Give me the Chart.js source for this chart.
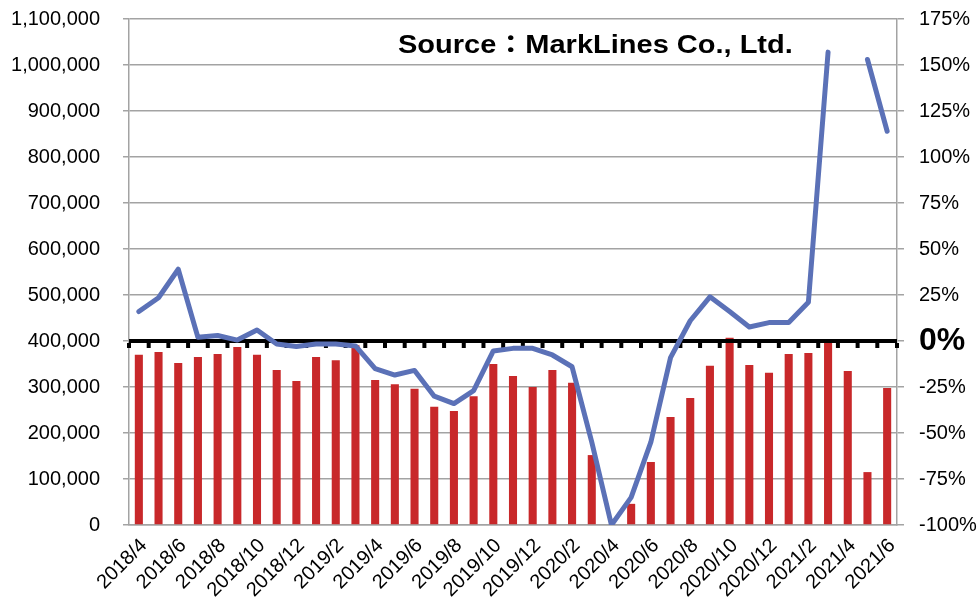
<!DOCTYPE html>
<html>
<head>
<meta charset="utf-8">
<script src="https://cdn.jsdelivr.net/npm/chart.js@4.4.1/dist/chart.umd.min.js"></script>
<style>
  html, body { margin: 0; padding: 0; background: #fff; }
  #wrap { width: 979px; height: 611px; }
</style>
</head>
<body>
<div id="wrap"><canvas id="salesChart" width="979" height="611"></canvas></div>
<script>
const months = [
    '2018/4', '2018/5', '2018/6', '2018/7', '2018/8', '2018/9', '2018/10', '2018/11', '2018/12',
    '2019/1', '2019/2', '2019/3', '2019/4', '2019/5', '2019/6', '2019/7', '2019/8', '2019/9',
    '2019/10', '2019/11', '2019/12',
    '2020/1', '2020/2', '2020/3', '2020/4', '2020/5', '2020/6', '2020/7', '2020/8', '2020/9',
    '2020/10', '2020/11', '2020/12',
    '2021/1', '2021/2', '2021/3', '2021/4', '2021/5', '2021/6'
];

// monthly sales volume (units)
const sales = [
    370000, 376000, 352000, 365000, 372000, 387000, 370000, 337000, 313000,
    365000, 358000, 391000, 315000, 306000, 296000, 257000, 248000, 280000,
    350000, 324000, 300000,
    337000, 309000, 152000, 0, 46000, 137000, 235000, 276000, 346000,
    407000, 348000, 331000,
    372000, 374000, 400000, 335000, 115000, 298000
];

// year-on-year change (%), no value where the base month was zero
const growth = [
    16, 23.5, 39, 2, 3, 0.5, 6, -1.6, -3,
    -1.6, -1.6, -2.7, -15, -18.5, -16, -30, -34, -27,
    -5.4, -4, -4,
    -7.6, -14, -55, -100, -85, -55, -9, 11, 24,
    16, 7.6, 10,
    10, 21, 157, null, 153, 114
];

const sourceText = 'Source：MarkLines Co., Ltd.';

Chart.defaults.font.family = "'Liberation Sans', Arial, sans-serif";
Chart.defaults.color = '#000';

const gridGray = '#a3a3a3';

// black category axis crossing at 0% with tick marks at the category edges
const zeroAxis = {
    id: 'zeroAxis',
    afterDatasetDraw(chart, args) {
        if (args.meta.type !== 'bar') return;
        const { ctx, chartArea, scales } = chart;
        const y = scales.y1.getPixelForValue(0);
        const x0 = scales.x.getPixelForValue(0);
        const step = scales.x.getPixelForValue(1) - x0;
        ctx.save();
        ctx.fillStyle = '#000';
        ctx.fillRect(chartArea.left, y - 2, chartArea.right - chartArea.left, 4);
        for (let i = 0; i <= months.length; i++) {
            const x = x0 + (i - 0.5) * step;
            ctx.fillRect(x - 2, y + 2, 4, 5);
        }
        ctx.restore();
    }
};

// source note, set in a slightly widened bold face
const sourceLabel = {
    id: 'sourceLabel',
    afterDraw(chart) {
        const { ctx } = chart;
        ctx.save();
        ctx.font = "bold 25px 'Liberation Sans', Arial, 'Noto Sans CJK JP', sans-serif";
        ctx.fillStyle = '#000';
        ctx.textBaseline = 'middle';
        ctx.translate(398, 46);
        ctx.scale(1.16, 1);
        ctx.fillText(sourceText, 0, 0);
        ctx.restore();
    }
};

new Chart(document.getElementById('salesChart').getContext('2d'), {
    type: 'bar',
    data: {
        labels: months,
        datasets: [
            {
                type: 'line',
                label: 'YoY',
                data: growth,
                yAxisID: 'y1',
                borderColor: '#5b71b7',
                borderWidth: 5,
                pointRadius: 0,
                tension: 0,
                borderCapStyle: 'round',
                borderJoinStyle: 'round',
                spanGaps: false,
                order: 0
            },
            {
                label: 'Sales',
                data: sales,
                yAxisID: 'y',
                backgroundColor: '#c8282a',
                barPercentage: 0.41,
                categoryPercentage: 1.0,
                order: 1
            }
        ]
    },
    options: {
        responsive: false,
        animation: false,
        layout: { padding: { top: 19, left: 0, right: 0, bottom: 0 } },
        plugins: {
            legend: { display: false },
            tooltip: { enabled: false }
        },
        scales: {
            x: {
                grid: { display: true, drawOnChartArea: false, drawTicks: false },
                border: { color: gridGray, width: 1.5 },
                ticks: {
                    autoSkip: false,
                    maxRotation: 45,
                    minRotation: 45,
                    padding: 9,
                    labelOffset: 5,
                    font: { size: 20 },
                    callback: (val, i) => (i % 2 === 0 ? months[i] : '')
                },
                afterFit(scale) {
                    scale.height = 86;
                    scale.paddingLeft = 0;
                    scale.paddingRight = 0;
                }
            },
            y: {
                position: 'left',
                min: 0,
                max: 1100000,
                grid: { color: gridGray, lineWidth: 1.5, tickLength: 6 },
                border: { color: gridGray, width: 1.5 },
                ticks: {
                    stepSize: 100000,
                    padding: 23,
                    font: { size: 20 },
                    callback: v => v.toLocaleString('en-US')
                },
                afterFit(scale) {
                    scale.width = 129;
                    scale.paddingTop = 0;
                    scale.paddingBottom = 0;
                }
            },
            y1: {
                position: 'right',
                min: -100,
                max: 175,
                grid: { drawOnChartArea: false, color: gridGray, lineWidth: 1.5, tickLength: 7 },
                border: { color: gridGray, width: 1.5 },
                ticks: {
                    stepSize: 25,
                    padding: 15,
                    font: c => (c.tick && c.tick.value === 0 ? { size: 32, weight: 'bold' } : { size: 20 }),
                    callback: v => v + '%'
                },
                afterFit(scale) {
                    scale.width = 82;
                    scale.paddingTop = 0;
                    scale.paddingBottom = 0;
                }
            }
        }
    },
    plugins: [zeroAxis, sourceLabel]
});
</script>
</body>
</html>
